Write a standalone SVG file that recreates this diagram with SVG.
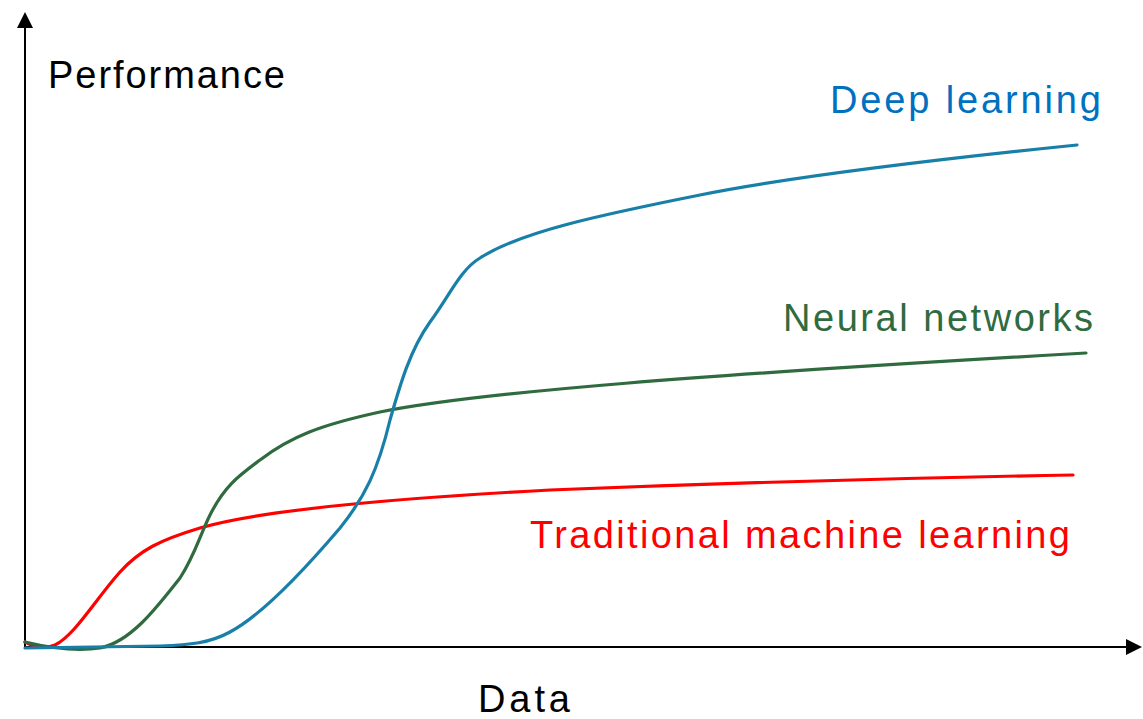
<svg xmlns="http://www.w3.org/2000/svg" width="1143" height="719" viewBox="0 0 1143 719">
<style>
.lbl{font-family:"Liberation Sans",Arial,sans-serif;font-size:38px}
.axis{stroke:#000;stroke-width:2;fill:none}
.curve{fill:none;stroke-width:3.2;stroke-linecap:round;stroke-linejoin:round}
</style>
<defs>
<marker id="arr" viewBox="0 0 16 16" refX="1" refY="8" markerWidth="16" markerHeight="16" markerUnits="userSpaceOnUse" orient="auto">
<path d="M0,0 L16,8 L0,16 Z" fill="#000"/>
</marker>
</defs>
<rect width="1143" height="719" fill="#fff"/>
<g id="axes">
<line class="axis" x1="25" y1="649" x2="25" y2="27" marker-end="url(#arr)"/>
<line class="axis" x1="24" y1="647" x2="1127" y2="647" marker-end="url(#arr)"/>
</g>
<g id="connectors">
<path id="traditional-curve" class="curve" stroke="#ff0000" d="M25,642 C35,648 45,649 55,645 C75,635 95,600 120,572 C140,550 160,540 200,528 C260,510 400,498 550,490 C750,482 900,478 1073,475"/>
<path id="neural-curve" class="curve" stroke="#2f6b3f" d="M25,642 C50,648 75,652 100,648 C130,642 155,610 180,578 C195,555 200,535 210,515 C225,485 240,475 260,460 C290,437 320,425 380,412 C480,392 700,375 1086,353"/>
<path id="deep-curve" class="curve" stroke="#177fa8" d="M25,648 L160,646 C190,645 210,643 230,632 C260,616 300,575 340,528 C365,497 378,470 390,420 C400,385 410,350 430,322 C450,295 460,270 480,258 C520,232 600,215 700,195 C800,175 950,158 1077,145"/>
</g>
<g id="label-performance"><text class="lbl" x="48" y="88" fill="#000" textLength="237">Performance</text></g>
<g id="label-data"><text class="lbl" x="478" y="712" fill="#000" textLength="92">Data</text></g>
<g id="label-deep"><text class="lbl" x="830" y="113" fill="#0070c0" textLength="271">Deep learning</text></g>
<g id="label-neural"><text class="lbl" x="783" y="331" fill="#2f6b3f" textLength="310">Neural networks</text></g>
<g id="label-traditional"><text class="lbl" x="530" y="548" fill="#ff0000" textLength="540">Traditional machine learning</text></g>
</svg>
